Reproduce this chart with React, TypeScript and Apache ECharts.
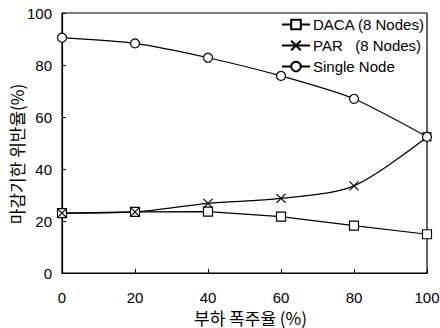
import React, { useEffect, useRef } from "react";
import * as echarts from "echarts";

const categories = [0, 20, 40, 60, 80, 100];
const dacaValues = [23, 23.5, 23.6, 21.7, 18.2, 14.9];
const parValues = [23, 23.5, 26.8, 28.7, 33.5, 52.4];
const singleValues = [90.5, 88.3, 82.8, 75.8, 67, 52.4];
const yTicks = [0, 20, 40, 60, 80, 100];

const FONT = "Liberation Sans, Arial, Noto Sans CJK KR, sans-serif";
const KFONT = "Noto Sans CJK KR, Liberation Sans, sans-serif";
const CROSS = "path://M0,0L10,10M10,0L0,10";

export default function App() {
  const ref = useRef<HTMLDivElement>(null);
  useEffect(() => {
    if (!ref.current) return;
    const chart = echarts.init(ref.current, null, { renderer: "svg" });
    const mk = (name: string, data: number[], symbol: string, smooth: number | boolean) => ({
      name,
      type: "line",
      data: categories.map((c, i) => [c, data[i]]),
      symbol,
      symbolSize: 9,
      smooth,
      lineStyle: { color: "#000", width: 1.2 },
      itemStyle: { color: "#fff", borderColor: "#000", borderWidth: 1.2 },
    });
    chart.setOption({
      animation: false,
      backgroundColor: "#fff",
      textStyle: { fontFamily: FONT },
      grid: {
        left: 62,
        right: 13,
        top: 13,
        bottom: 55,
        outerBoundsMode: "none",
        containLabel: false,
        show: true,
        borderColor: "#000",
        borderWidth: 1.2,
      },
      legend: {
        orient: "vertical",
        left: 276,
        top: 12,
        itemWidth: 28,
        itemHeight: 12,
        itemGap: 6,
        align: "left",
        textStyle: { fontSize: 15, color: "#000", fontFamily: FONT, padding: [0, 0, 0, -2] },
        data: ["DACA (8 Nodes)", "PAR\u00a0\u00a0\u00a0(8 Nodes)", "Single Node"],
      },
      xAxis: {
        type: "value",
        min: 0,
        max: 100,
        interval: 20,
        name: "부하 폭주율 (%)",
        nameLocation: "middle",
        nameGap: 35,
        nameMoveOverlap: false,
        nameTextStyle: { fontFamily: KFONT, fontSize: 17, lineHeight: 18, color: "#000", padding: [0, 0, 0, 12] },
        axisLine: { lineStyle: { color: "#000", width: 1.2 } },
        axisTick: { inside: true, length: 4, lineStyle: { color: "#000" } },
        axisLabel: { fontSize: 15, color: "#000", margin: 17, fontFamily: FONT },
        splitLine: { show: false },
      },
      yAxis: {
        type: "value",
        min: yTicks[0],
        max: yTicks[yTicks.length - 1],
        interval: 20,
        name: "마감기한 위반율(%)",
        nameLocation: "middle",
        nameGap: 37,
        nameMoveOverlap: false,
        nameTextStyle: { fontFamily: KFONT, fontSize: 17, lineHeight: 18, color: "#000", padding: [0, 22, 0, 0] },
        axisLine: { show: true, lineStyle: { color: "#000", width: 1.2 } },
        axisTick: { show: true, inside: true, length: 4, lineStyle: { color: "#000" } },
        axisLabel: { fontSize: 15, color: "#000", margin: 10, fontFamily: FONT },
        splitLine: { show: false },
      },
      series: [
        mk("DACA (8 Nodes)", dacaValues, "rect", false),
        mk("PAR\u00a0\u00a0\u00a0(8 Nodes)", parValues, CROSS, 0.3),
        mk("Single Node", singleValues, "circle", 0.2),
      ],
    });
    return () => chart.dispose();
  }, []);
  return <div ref={ref} style={{ width: 440, height: 328, position: "absolute", left: 0, top: 0 }} />;
}
